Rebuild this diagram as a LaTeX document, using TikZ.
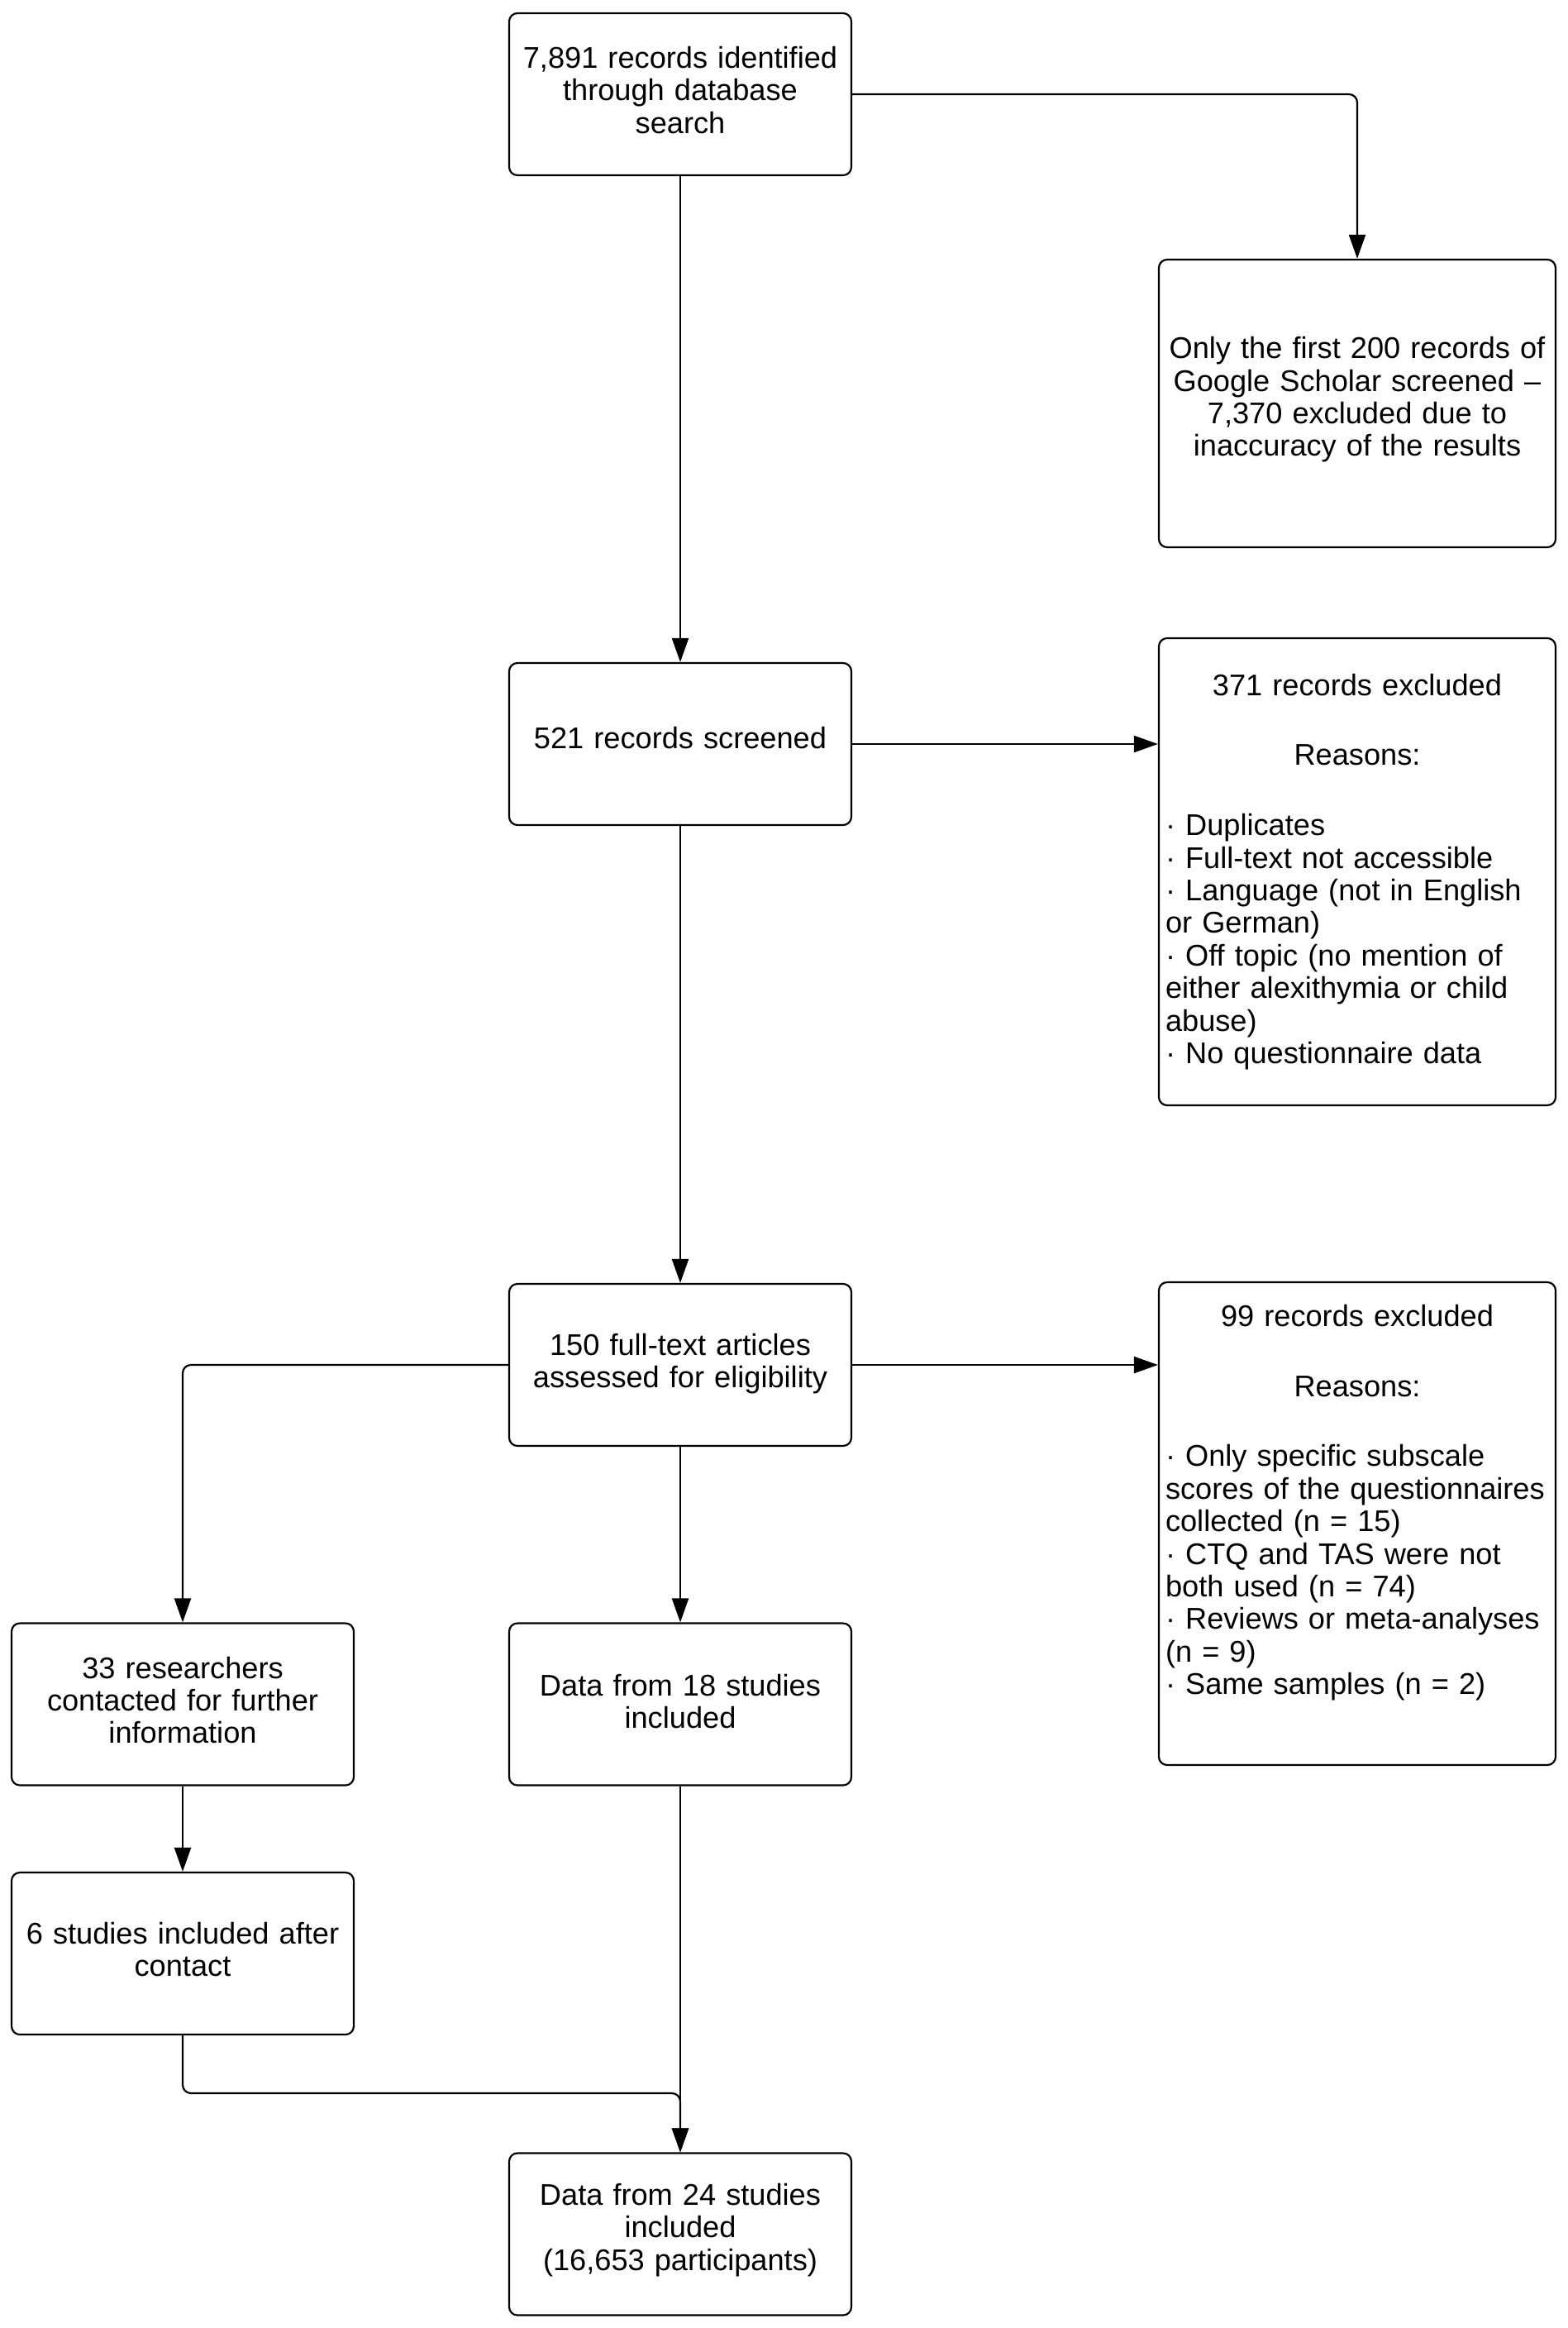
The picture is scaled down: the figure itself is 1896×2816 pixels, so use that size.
\documentclass[tikz,border=0pt]{standalone}
\usepackage{fontspec}
\setmainfont{Liberation Sans}
\usetikzlibrary{arrows.meta,calc}
\begin{document}
\begin{tikzpicture}[x=1pt,y=-1pt,
  box/.style={draw, line width=2.2pt, rounded corners=10pt, minimum width=414pt, minimum height=196pt,
    text width=400pt, align=center, inner sep=0pt, font=\fontsize{36.2pt}{39.4pt}\selectfont},
  lift/.style={execute at end node={\endgraf\kern#1}},
  lift/.default=10pt,
  widebox/.style={box, minimum width=480pt, text width=464pt, inner xsep=8pt},
  arr/.style={line width=2.2pt, -{Triangle[length=29pt,width=20pt]}},
  conn/.style={arr, rounded corners=10pt}]
\useasboundingbox (0,0) rectangle (1896,2816);
\node[box, lift] (top) at (823,114) {7,891 records identified\\through database\\search};
\node[widebox, lift=9pt, minimum height=348pt] (google) at (1642,488) {Only the first 200 records of\\Google Scholar screened –\\7,370 excluded due to\\inaccuracy of the results};
\node[box, lift=14pt] (s521) at (823,900) {521 records screened};
\node[widebox, align=left, minimum height=565pt] (ex1) at (1642,1054.5) {\setlength\parindent{0pt}\centering 371 records excluded\par\vspace{3pt}\mbox{}\par\vspace{3pt}Reasons:\par\vspace{3pt}\mbox{}\par\vspace{3pt}\raggedright
· Duplicates\par
· Full-text not accessible\par
· Language (not in English\\or German)\par
· Off topic (no mention of\\either alexithymia or child\\abuse)\par
· No questionnaire data\par};
\node[box, lift=3pt] (f150) at (823,1651) {150 full-text articles\\assessed for eligibility};
\node[widebox, align=left, minimum height=584pt] (ex2) at (1642,1843) {\setlength\parindent{0pt}\centering 99 records excluded\par\vspace{3pt}\mbox{}\par\vspace{3pt}Reasons:\par\vspace{3pt}\mbox{}\par\vspace{3pt}\raggedright
· Only specific subscale\\scores of the questionnaires\\collected (n = 15)\par
· CTQ and TAS were not\\both used (n = 74)\par
· Reviews or meta-analyses\\(n = 9)\par
· Same samples (n = 2)\par\vspace{19pt}\mbox{}};
\node[box, lift] (r33) at (221,2061.5) {33 researchers\\contacted for further\\information};
\node[box, lift=7pt] (d18) at (823,2061.5) {Data from 18 studies\\included};
\node[box, lift] (s6) at (221,2363) {6 studies included after\\contact};
\node[box, lift] (final) at (823,2702.5) {Data from 24 studies\\included\\(16,653 participants)};
\coordinate (join) at (823,2532);
\draw[arr] (top.south) -- (s521.north);
\draw[conn] (top.east) -| (google.north);
\draw[arr] (s521.east) -- (s521.east -| ex1.west);
\draw[arr] (s521.south) -- (f150.north);
\draw[arr] (f150.east) -- (f150.east -| ex2.west);
\draw[conn] (f150.west) -| (r33.north);
\draw[arr] (f150.south) -- (d18.north);
\draw[arr] (r33.south) -- (s6.north);
\draw[arr] (d18.south) -- (final.north);
\draw[conn] (s6.south) |- (join) -- (final.north);
\end{tikzpicture}
\end{document}
